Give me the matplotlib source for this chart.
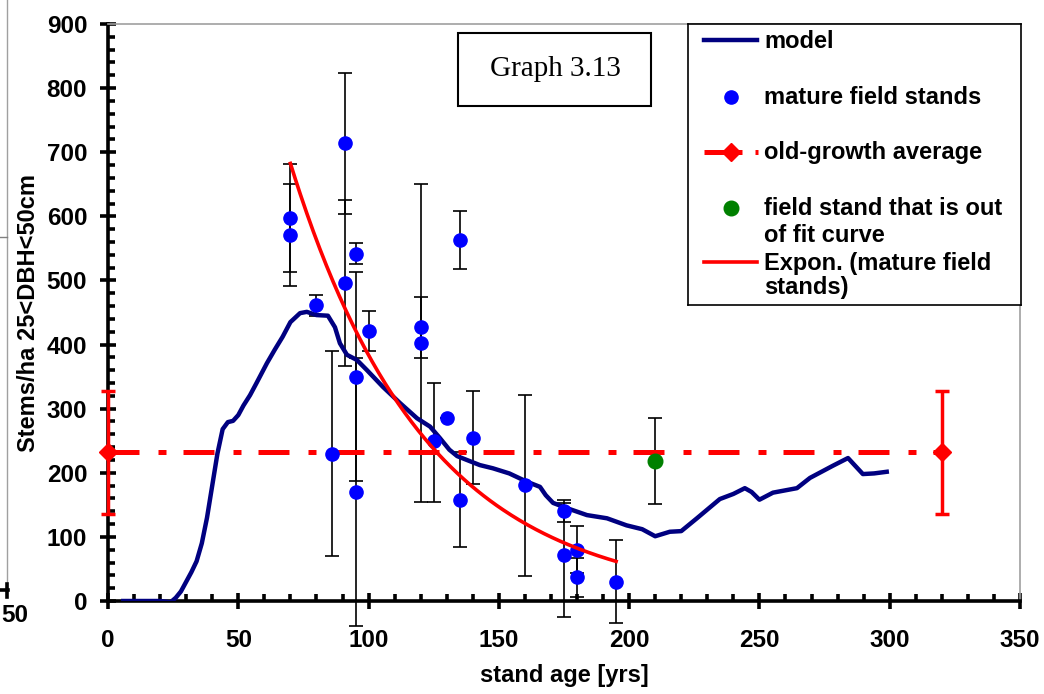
import numpy as np
import matplotlib
matplotlib.use("Agg")
import matplotlib.pyplot as plt
from matplotlib.patches import Rectangle
from matplotlib.lines import Line2D
from matplotlib.ticker import MultipleLocator

plt.rcParams['font.family'] = ['Liberation Sans', 'DejaVu Sans']
plt.rcParams['font.weight'] = 'bold'

# ---------------- data ----------------
model_x = [5, 10, 15, 20, 22, 24, 26, 28, 30, 32, 34, 36, 38, 40, 42, 44, 46, 48, 50, 52,
           54.5, 57, 61, 64, 67, 70, 73.7, 76.3, 80, 84.4, 87.1, 89, 91.7, 95.5, 99.4,
           105.5, 112, 118.6, 123.6, 127.4, 131, 134, 137.7, 142.7, 147.7, 154, 160.8,
           165.8, 168, 170.8, 176, 183.8, 191.5, 199, 205, 210, 215.6, 220, 226, 234.8,
           240, 244.4, 247, 250, 255.2, 264.4, 269.4, 278.2, 284, 286.5, 289.7, 294, 299.7]
model_y = [0, 0, 0, 0, -1, -2, 5, 15, 30, 45, 62, 90, 130, 180, 230, 268, 279, 281, 290, 305,
           321, 340, 371, 392, 412, 435, 449, 451, 446, 445, 427, 402, 384, 376, 360,
           334, 309, 285, 272, 254, 236, 226, 220, 212, 207, 199, 186,
           178, 165, 153, 145, 134, 129, 118, 112, 101, 108, 109, 129, 159,
           167, 176, 170, 158, 169, 176, 192, 211, 223, 212, 198, 199, 202]

stand_x = [70, 70, 80, 86, 91, 91, 95, 95, 95, 100, 120, 120, 125, 130, 135, 135, 140,
           160, 175, 175, 180, 180, 195]
stand_y = [598, 571, 461, 230, 714, 496, 542, 350, 170, 421, 427, 403, 250, 285, 158, 563,
           255, 181, 140, 72, 80, 37, 30]
stand_err_lo = [85, 80, 17, 160, 110, 130, 17, 163, 209, 31, 48, 249, 96, 0, 74, 45, 73,
                142, 17, 97, 37, 30, 65]
stand_err_hi = [84, 80, 17, 160, 110, 130, 17, 163, 209, 31, 47, 248, 90, 0, 74, 45, 73,
                140, 17, 81, 37, 30, 65]

old_x = [0, 320]
old_y = [232, 232]
old_err = [96, 96]

out_x = [210]
out_y = [218]
out_err = [67]

# exponential trend of mature field stands (least squares on log, as Excel)
b, lna = np.polyfit(stand_x, np.log(stand_y), 1)
fit_x = np.linspace(min(stand_x), max(stand_x), 200)
fit_y = np.exp(lna) * np.exp(b * fit_x)

NAVY = '#000080'
BLUE = '#0000FF'
RED = '#FF0000'
GREEN = '#008000'

W, H = 1044, 694
fig = plt.figure(figsize=(W / 100, H / 100), dpi=100)
ax = fig.add_axes([108 / W, 93 / H, 912 / W, 577 / H])

ax.set_xlim(0, 350)
ax.set_ylim(0, 900)

# model
ax.plot(model_x, model_y, color=NAVY, lw=3.2, zorder=3, solid_capstyle='butt')

# mature field stands
ax.errorbar(stand_x, stand_y, yerr=[stand_err_lo, stand_err_hi], fmt='none',
            ecolor='black', elinewidth=1.2, capsize=5, capthick=1.2, zorder=2,
            clip_on=False)
ax.plot(stand_x, stand_y, 'o', color=BLUE, ms=9.5, mec=BLUE, zorder=5)

# old-growth average
ax.errorbar(old_x, old_y, yerr=old_err, fmt='none', ecolor=RED, elinewidth=2.5,
            capsize=5, capthick=2.5, zorder=4, clip_on=False)
ax.plot(old_x, old_y, color=RED, lw=3.6, dashes=(6.2, 3.8, 1.6, 3.4),
        dash_capstyle='butt', zorder=4, clip_on=False)
ax.plot(old_x, old_y, 'D', color=RED, ms=9, zorder=6, clip_on=False)

# out-of-fit stand
ax.errorbar(out_x, out_y, yerr=out_err, fmt='none', ecolor='black', elinewidth=1.2,
            capsize=5, capthick=1.2, zorder=2)
ax.plot(out_x, out_y, 'o', color=GREEN, ms=10.5, zorder=6)

# exponential fit
ax.plot(fit_x, fit_y, color=RED, lw=2.6, zorder=5)

# spines and ticks
for s in ('left', 'bottom'):
    ax.spines[s].set_color('black')
    ax.spines[s].set_linewidth(2.6)
for s in ('top', 'right'):
    ax.spines[s].set_color('#a0a0a0')
    ax.spines[s].set_linewidth(1.2)

ax.xaxis.set_major_locator(MultipleLocator(50))
ax.xaxis.set_minor_locator(MultipleLocator(10))
ax.yaxis.set_major_locator(MultipleLocator(100))
ax.yaxis.set_minor_locator(MultipleLocator(20))
ax.tick_params(which='major', direction='inout', length=12, width=2.6, labelsize=17.5)
ax.tick_params(which='minor', direction='in', length=5, width=2.6)
ax.tick_params(axis='x', which='major', pad=14)
ax.tick_params(axis='y', which='major', pad=9)
for lab in ax.get_xticklabels() + ax.get_yticklabels():
    lab.set_fontweight('bold')

ax.set_xlabel('stand age [yrs]', fontsize=17, fontweight='bold', labelpad=9)
ax.set_ylabel('Stems/ha 25<DBH<50cm', fontsize=17, fontweight='bold')
ax.yaxis.set_label_coords(-(108 - 40) / 912, 0.5)

# "Graph 3.13" box
fig.patches.append(Rectangle((458 / W, 1 - 106 / H), 193 / W, 73 / H,
                             transform=fig.transFigure, fill=True, fc='white',
                             ec='black', lw=1.5, zorder=10))
fig.text(555 / W, 1 - 69 / H, 'Graph 3.13', family=['Liberation Serif', 'DejaVu Serif'],
         fontweight='normal', fontsize=21, ha='center', va='center', zorder=11)

# legend panel
lax = fig.add_axes([688 / W, 1 - 305 / H, 333 / W, 281 / H], zorder=10)
lax.set_xlim(688, 1021)
lax.set_ylim(305, 24)
lax.set_xticks([])
lax.set_yticks([])
for s in lax.spines.values():
    s.set_color('black')
    s.set_linewidth(1.2)
lax.plot([704, 757], [40, 40], color=NAVY, lw=3.2)
lax.plot([731], [97], 'o', color=BLUE, ms=9.5)
lax.plot([704, 742], [152, 152], color=RED, lw=3.6, solid_capstyle='butt')
lax.plot([731], [152], 'D', color=RED, ms=9)
lax.plot([755, 758], [152, 152], color=RED, lw=3.6, solid_capstyle='butt')
lax.plot([731], [208], 'o', color=GREEN, ms=10.5)
lax.plot([704, 757], [262, 262], color=RED, lw=2.6)
legend_lines = [(42, 'model'), (97, 'mature field stands'), (153, 'old-growth average'),
                (208, 'field stand that is out'), (235, 'of fit curve'),
                (263, 'Expon. (mature field'), (287, 'stands)')]
for yy, s in legend_lines:
    lax.text(764, yy, s, fontsize=17, fontweight='bold', ha='left', va='center')

# fragments of the neighbouring chart at the left edge
fig.add_artist(Line2D([7 / W, 7 / W], [1, 1 - 590 / H], color='#a0a0a0', lw=1.0))
fig.add_artist(Line2D([0, 7 / W], [1 - 237 / H, 1 - 237 / H], color='#808080', lw=1.0))
fig.add_artist(Line2D([0, 8 / W], [1 - 590 / H, 1 - 590 / H], color='black', lw=2.6))
fig.add_artist(Line2D([7 / W, 7 / W], [1 - 584 / H, 1 - 597 / H], color='black', lw=2.6))
fig.text(1 / W, 1 - 616 / H, '50', fontsize=17.5, fontweight='bold', ha='left',
         va='center')

fig.savefig('out.png', dpi=100)
